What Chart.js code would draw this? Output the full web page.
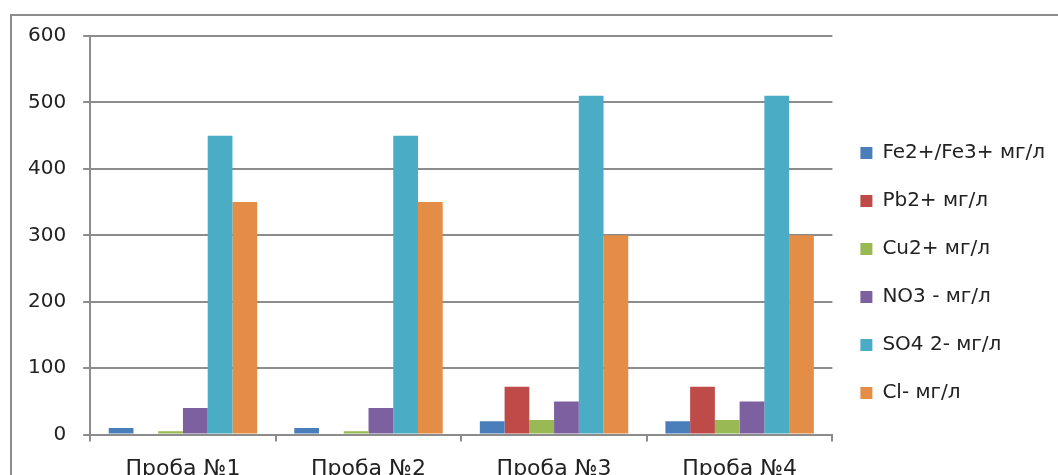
<!DOCTYPE html>
<html>
<head>
<meta charset="utf-8">
<script src="https://cdn.jsdelivr.net/npm/chart.js@4/dist/chart.umd.min.js"></script>
<style>
  html, body { margin: 0; padding: 0; background: #fff; width: 1058px; height: 475px; overflow: hidden; }
  #wrap { position: relative; width: 1100px; height: 500px; }
</style>
</head>
<body>
<div id="wrap"><canvas id="c" width="1100" height="500"></canvas></div>
<script>
const categories = ["Проба №1", "Проба №2", "Проба №3", "Проба №4"];
const seriesNames = ["Fe2+/Fe3+ мг/л", "Pb2+ мг/л", "Cu2+ мг/л", "NO3 - мг/л", "SO4 2- мг/л", "Cl- мг/л"];
const fe = [10, 10, 20, 20];
const pb = [0, 0, 72, 72];
const cu = [5, 5, 22, 22];
const no3 = [40, 40, 50, 50];
const so4 = [450, 450, 510, 510];
const cl = [350, 350, 300, 300];
const yTicks = [0, 100, 200, 300, 400, 500, 600];
const colors = ["#4a7ebb", "#be4b48", "#98b954", "#7d60a0", "#4aacc5", "#e38d46"];
const seriesValues = [fe, pb, cu, no3, so4, cl];

const frame = {
  id: 'frame',
  beforeDraw(chart) {
    const ctx = chart.ctx;
    ctx.save();
    ctx.strokeStyle = '#8c8c8c';
    ctx.lineWidth = 2;
    ctx.strokeRect(11, 15, 1200, 600);
    ctx.restore();
  }
};

new Chart(document.getElementById('c'), {
  type: 'bar',
  data: {
    labels: categories,
    datasets: seriesNames.map((n, i) => ({
      label: n,
      data: seriesValues[i],
      backgroundColor: colors[i],
      borderWidth: 0,
      categoryPercentage: 0.8,
      barPercentage: 1.0
    }))
  },
  options: {
    responsive: false,
    animation: false,
    layout: { padding: { left: 11, top: 36, right: 45, bottom: 4 } },
    plugins: {
      legend: {
        position: 'right',
        align: 'center',
        title: { display: true, text: '', padding: 1, font: { size: 10 } },
        labels: {
          boxWidth: 12, boxHeight: 12, padding: 28,
          color: '#222',
          font: { family: 'DejaVu Sans', size: 20 }
        }
      },
      tooltip: { enabled: false }
    },
    scales: {
      x: {
        grid: { display: true, drawOnChartArea: false, drawTicks: true, tickLength: 7, color: '#8c8c8c', lineWidth: 2 },
        border: { color: '#8c8c8c', width: 2 },
        ticks: { color: '#222', padding: 14, font: { family: 'DejaVu Sans', size: 22 } }
      },
      y: {
        min: 0, max: 600,
        afterBuildTicks(axis) { axis.ticks = yTicks.map(v => ({ value: v })); },
        grid: { color: '#8c8c8c', lineWidth: 2, tickLength: 7 },
        border: { color: '#8c8c8c', width: 2 },
        ticks: { color: '#222', padding: 17, font: { family: 'DejaVu Sans', size: 20 } }
      }
    }
  },
  plugins: [frame]
});
</script>
</body>
</html>
